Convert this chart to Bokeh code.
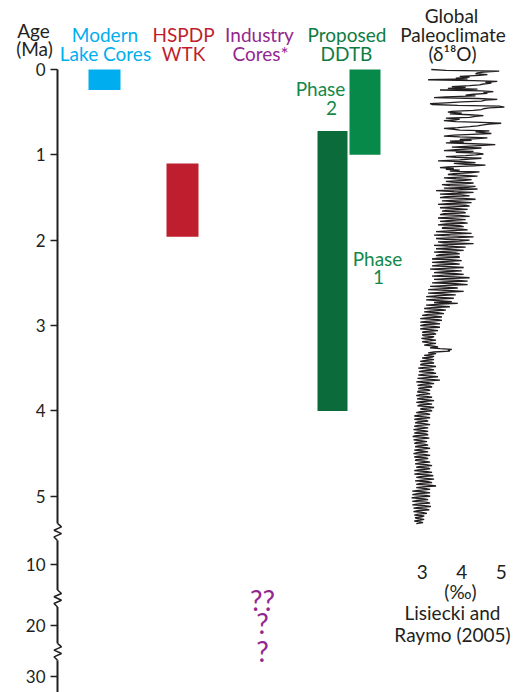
import numpy as np
from bokeh.plotting import figure
from bokeh.models import (Range1d, FixedTicker, CustomJSTickFormatter, Label,
                          ColumnDataSource)
from bokeh.core.properties import value
from bokeh.embed import file_html
from bokeh.resources import INLINE

# ---------------- data ----------------
age_tick_values = [0, 1, 2, 3, 4, 5, 10, 20, 30]
age_tick_labels = ["0", "1", "2", "3", "4", "5", "10", "20", "30"]

core_names = ["Modern Lake Cores", "HSPDP WTK", "Proposed DDTB Phase 1", "Proposed DDTB Phase 2"]
core_top_ma = [0.0, 1.10, 0.72, 0.0]
core_base_ma = [0.24, 1.96, 4.0, 1.0]

industry_q_text = ["??", "?", "?"]
industry_q_ma = [15.7, 19.5, 25.0]

d18o_ticks = [3, 4, 5]
d18o_step_ma = 0.01
d18o = [
    3.23, 3.60, 4.95, 4.55, 4.40, 4.35, 4.65, 4.45, 3.95, 4.20,
    3.85, 4.15, 3.15, 4.30, 4.90, 4.60, 4.75, 4.55, 4.45, 4.20,
    3.75, 4.10, 3.65, 4.40, 3.45, 4.50, 4.80, 4.55, 4.65, 4.30,
    4.10, 4.35, 3.60, 3.30, 4.40, 4.90, 4.60, 4.50, 4.00, 3.60,
    3.20, 3.25, 3.90, 4.95, 5.08, 4.70, 4.55, 4.50, 4.30, 3.75,
    3.65, 4.00, 3.70, 4.20, 4.55, 4.35, 4.20, 3.60, 3.95, 3.85,
    3.55, 3.85, 4.50, 5.00, 4.70, 4.55, 4.40, 4.20, 3.90, 3.55,
    3.80, 3.95, 4.70, 4.35, 4.55, 4.75, 4.25, 3.80, 3.55, 3.95,
    4.65, 4.40, 3.95, 4.25, 3.70, 4.05, 3.60, 4.30, 4.85, 4.55,
    4.10, 3.75, 4.50, 4.20, 3.85, 3.55, 4.30, 3.85, 4.40, 4.55,
    4.35, 4.10, 3.60, 3.85, 4.50, 4.20, 3.95, 3.40, 4.00, 4.35,
    3.80, 4.10, 4.60, 4.30, 3.65, 3.45, 3.80, 3.60, 3.95, 3.70,
    4.45, 4.20, 3.80, 3.65, 4.05, 4.40, 3.95, 3.55, 3.85, 4.25,
    4.10, 3.60, 3.75, 4.30, 4.05, 3.50, 3.70, 4.35, 4.15, 3.55,
    4.40, 3.95, 3.35, 3.80, 4.30, 3.90, 3.45, 4.00, 4.20, 3.60,
    3.45, 4.05, 4.35, 3.85, 3.50, 3.95, 4.25, 3.70, 3.40, 4.10,
    4.20, 3.75, 3.45, 3.90, 4.15, 3.60, 3.50, 4.05, 4.10, 3.55,
    3.45, 3.95, 4.20, 3.70, 3.40, 3.85, 4.10, 3.65, 3.45, 4.00,
    4.15, 3.60, 3.40, 3.95, 4.05, 3.55, 3.50, 4.00, 4.15, 3.65,
    3.35, 3.80, 4.25, 3.75, 3.30, 3.70, 4.30, 3.90, 3.35, 3.60,
    4.20, 3.95, 3.40, 3.55, 4.30, 3.85, 3.30, 3.65, 4.10, 3.70,
    3.35, 3.80, 4.05, 3.55, 3.30, 3.85, 3.95, 3.45, 3.35, 3.90,
    3.95, 3.40, 3.25, 3.80, 4.00, 3.50, 3.25, 3.75, 3.95, 3.45,
    3.25, 3.70, 4.05, 3.55, 3.20, 3.65, 4.00, 3.50, 3.30, 3.80,
    4.05, 3.55, 3.25, 3.85, 4.20, 3.60, 3.30, 3.90, 4.15, 3.55,
    3.25, 3.85, 4.15, 3.65, 3.20, 3.60, 3.90, 3.45, 3.15, 3.75,
    4.05, 3.55, 3.15, 3.50, 3.85, 3.40, 3.10, 3.45, 3.80, 3.35,
    3.10, 3.50, 3.75, 3.30, 3.90, 3.45, 3.10, 3.40, 3.70, 3.25,
    3.05, 3.45, 3.60, 3.20, 3.05, 3.40, 3.55, 3.15, 3.00, 3.35,
    3.50, 3.10, 2.95, 3.40, 3.50, 3.10, 2.95, 3.30, 3.45, 3.05,
    2.95, 3.30, 3.45, 3.05, 2.95, 3.25, 3.40, 3.05, 3.00, 3.30,
    3.35, 3.00, 3.05, 3.30, 3.25, 2.98, 3.10, 3.35, 3.20, 3.00,
    3.15, 3.35, 3.15, 3.05, 3.30, 3.40, 3.20, 3.45, 3.75, 3.65,
    3.70, 3.30, 3.15, 3.35, 3.20, 3.05, 3.30, 3.25, 3.00, 3.15,
    3.30, 3.05, 2.95, 3.25, 3.30, 3.00, 2.95, 3.20, 3.35, 3.05,
    2.90, 3.20, 3.30, 3.00, 2.92, 3.25, 3.35, 3.05, 2.90, 3.15,
    3.40, 3.10, 2.88, 3.20, 3.45, 3.05, 2.85, 3.15, 3.30, 3.00,
    2.88, 3.20, 3.25, 2.95, 2.90, 3.15, 3.20, 2.90, 2.88, 3.10,
    3.20, 2.95, 2.85, 3.10, 3.25, 2.95, 2.87, 3.15, 3.30, 3.00,
    2.85, 3.10, 3.25, 2.95, 2.88, 3.15, 3.30, 3.00, 2.95, 3.20,
    3.25, 2.95, 2.85, 3.10, 3.20, 2.90, 2.80, 3.05, 3.20, 2.90,
    2.80, 3.10, 3.15, 2.88, 2.82, 3.05, 3.20, 2.90, 2.80, 3.00,
    3.15, 2.90, 2.78, 3.05, 3.15, 2.88, 2.80, 3.10, 3.15, 2.85,
    2.76, 3.05, 3.18, 2.90, 2.78, 3.00, 3.12, 2.85, 2.80, 3.05,
    3.15, 2.90, 2.82, 3.10, 3.20, 2.92, 2.80, 3.00, 3.15, 2.88,
    2.78, 3.05, 3.20, 2.90, 2.80, 3.10, 3.15, 2.85, 2.82, 3.05,
    3.20, 2.95, 2.82, 3.10, 3.25, 2.95, 2.85, 3.15, 3.20, 2.90,
    2.80, 3.10, 3.25, 2.95, 2.80, 3.15, 3.28, 2.95, 2.85, 3.10,
    3.30, 3.00, 2.82, 3.15, 3.25, 2.95, 2.85, 3.20, 3.35, 3.00,
    2.85, 3.10, 3.20, 2.90, 2.75, 3.05, 3.20, 2.88, 2.75, 3.10,
    3.20, 2.85, 2.73, 3.05, 3.15, 2.85, 2.75, 3.10, 3.20, 2.90,
    2.75, 3.05, 3.22, 2.90, 2.78, 3.10, 3.18, 2.88, 2.78, 3.00,
    3.12, 2.90, 2.80, 3.05, 3.00, 2.82, 2.85, 3.05, 2.95, 2.80,
    2.95, 3.02, 2.85,
]
d18o_age = np.arange(len(d18o)) * d18o_step_ma

# ---------------- scale (broken age axis) ----------------
age_knots = [0, 5.42, 10, 20, 30]
disp_knots = [0.0, 5.42, 5.800, 6.519, 7.116]
break_disp = [5.418, 6.198, 6.823]
PX = 85.35          # pixels per display unit
Y0 = 69.0           # canvas y of age 0
W, H = 515, 692
AXIS_X = 57
TY = -7.0           # text baseline correction (px)


def disp(a):
    return np.interp(a, age_knots, disp_knots)


def py(y):          # canvas y -> display units (layout helper for labels)
    return (y + TY - Y0) / PX


def pyr(y):         # canvas y -> display units, no text correction
    return (y - Y0) / PX


DARK = "#231f20"
FONT = "Lato"
FS = "19px"

p = figure(width=W, height=H, output_backend="svg", toolbar_location=None,
           x_range=Range1d(0, W), y_range=Range1d(pyr(H), pyr(0)),
           x_axis_location=None, min_border_left=0, min_border_right=0,
           min_border_top=0, min_border_bottom=0)
p.extra_x_ranges = {"d18o": Range1d(3 - 421.7 / 39.5, 3 + (W - 421.7) / 39.5)}
p.xgrid.visible = False
p.ygrid.visible = False
p.outline_line_color = None
p.background_fill_color = "white"
p.border_fill_color = "white"

# y axis (drawn at a fixed x inside the frame)
disp_ticks = [float(v) for v in disp(age_tick_values)]
ya = p.yaxis[0]
ya.ticker = FixedTicker(ticks=disp_ticks, minor_ticks=[])
ya.formatter = CustomJSTickFormatter(args=dict(pos=disp_ticks, labs=age_tick_labels), code="""
    let best = 0, bd = 1e9;
    for (let i = 0; i < pos.length; i++) { const d = Math.abs(pos[i] - tick); if (d < bd) { bd = d; best = i; } }
    return bd < 1e-6 ? labs[best] : "";
""")
ya.fixed_location = AXIS_X
ya.bounds = (0, pyr(H))
ya.axis_line_color = DARK
ya.axis_line_width = 2
ya.major_tick_line_color = DARK
ya.major_tick_line_width = 1.5
ya.major_tick_out = 7
ya.major_tick_in = 0
ya.minor_tick_line_color = None
ya.major_label_standoff = 5
ya.major_label_text_font = FONT
ya.major_label_text_font_size = "17px"
ya.major_label_text_color = DARK

# axis breaks
bx, by = [], []
for b in break_disp:
    bx.append([AXIS_X, AXIS_X + 4, AXIS_X - 3.5, AXIS_X + 4, AXIS_X - 3.5, AXIS_X])
    by.append([b + d / PX for d in [-8.5, -5, -1.7, 1.7, 5, 8.5]])
mask = p.quad(left=[AXIS_X - 2] * 3, right=[AXIS_X + 2] * 3,
              top=[b - 8.5 / PX for b in break_disp],
              bottom=[b + 8.5 / PX for b in break_disp], fill_color="white", line_color=None)
mask.level = "annotation"
zz = p.multi_line(xs=bx, ys=by, line_color=DARK, line_width=1.5)
zz.level = "overlay"

# core bars
bar_left = [88, 166, 317, 349]
bar_right = [120, 198, 347, 380]
bar_colors = ["#00AEEF", "#BE1E2D", "#0B6B3A", "#07894A"]
src = ColumnDataSource(dict(name=core_names, left=bar_left, right=bar_right,
                            top=list(disp(core_top_ma)), bottom=list(disp(core_base_ma)),
                            color=bar_colors))
p.quad(left="left", right="right", top="top", bottom="bottom", fill_color="color",
       line_color=None, source=src)

# d18O curve
p.line(x=d18o, y=disp(d18o_age), x_range_name="d18o", line_color=DARK, line_width=1.3)

# question marks for industry cores
p.text(x=[262] * 3, y=list(disp(industry_q_ma)), text=industry_q_text,
       text_align="center", text_baseline="alphabetic", text_font=value(FONT),
       text_font_size=value("28px"), text_color="#92278F")

# d18O tick labels
p.text(x=d18o_ticks, y=[py(578)] * 3, text=[str(t) for t in d18o_ticks], x_range_name="d18o",
       text_align="center", text_baseline="alphabetic", text_font=value(FONT),
       text_font_size=value(FS), text_color=DARK)

# header and annotation texts
CYAN, RED, PURP, GRN, GRN2 = "#00AEEF", "#BE1E2D", "#92278F", "#0E7C42", "#12884A"
hdr = [
    ("Modern", 104.5, 40.5, CYAN), ("Lake Cores", 105, 59.5, CYAN),
    ("HSPDP", 183, 40.5, RED), ("WTK", 183, 59.5, RED),
    ("Industry", 259, 40.5, PURP), ("Cores*", 260, 59.5, PURP),
    ("Proposed", 346.5, 40.5, GRN), ("DDTB", 346, 59.5, GRN),
    ("Global", 451, 21.5, DARK), ("Paleoclimate", 452.5, 40.5, DARK),
    ("(\u03b4\u00b9\u2078O)", 452, 59.5, DARK),
    ("Phase", 320, 95, GRN2), ("2", 331, 114, GRN2),
    ("Phase", 377, 265, GRN2), ("1", 378, 283, GRN2),
    ("(\u2030)", 460, 598, DARK), ("Lisiecki and", 452, 619, DARK),
    ("Raymo (2005)", 452, 641, DARK),
]
hsrc = ColumnDataSource(dict(text=[h[0] for h in hdr], x=[h[1] for h in hdr],
                             y=[py(h[2]) for h in hdr], color=[h[3] for h in hdr]))
p.text(x="x", y="y", text="text", text_color="color", source=hsrc, text_align="center",
       text_baseline="alphabetic", text_font=value(FONT), text_font_size=value(FS))

for t, x, y in [("Age", 33, 36.5), ("(Ma)", 34, 55)]:
    p.add_layout(Label(x=x, y=py(y), text=t, text_align="center", text_baseline="alphabetic",
                       text_font=FONT, text_font_size=FS, text_color=DARK))

open("out.html", "w").write(file_html(p, INLINE))
